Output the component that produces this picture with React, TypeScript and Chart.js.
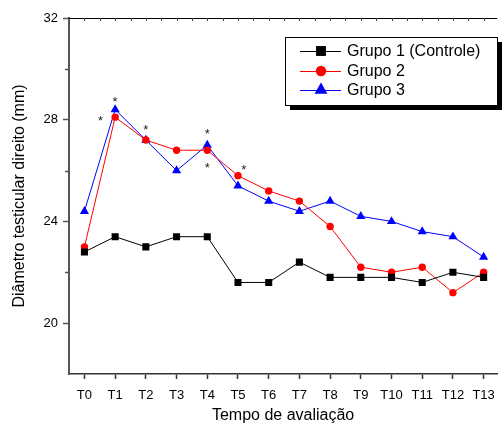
import React, { useEffect, useRef } from "react";
import { Chart, registerables } from "chart.js";

Chart.register(...registerables);

const categories = ["T0", "T1", "T2", "T3", "T4", "T5", "T6", "T7", "T8", "T9", "T10", "T11", "T12", "T13"];
const grupo1 = [22.8, 23.4, 23.0, 23.4, 23.4, 21.6, 21.6, 22.4, 21.8, 21.8, 21.8, 21.6, 22.0, 21.8];
const grupo2 = [23.0, 28.1, 27.2, 26.8, 26.8, 25.8, 25.2, 24.8, 23.8, 22.2, 22.0, 22.2, 21.2, 22.0];
const grupo3 = [24.4, 28.4, 27.2, 26.0, 27.0, 25.4, 24.8, 24.4, 24.8, 24.2, 24.0, 23.6, 23.4, 22.6];
const seriesNames = ["Grupo 1 (Controle)", "Grupo 2", "Grupo 3"];
const yTickValues = [20, 24, 28, 32];
const yMinorTicks = [22, 26, 30];
const asteriskX = [0.52, 1, 2, 4, 4, 5.19];
const asteriskY = [28.08, 28.84, 27.74, 27.58, 26.24, 26.16];

const FONT = "'Liberation Sans', Arial, sans-serif";

export default function App() {
  const ref = useRef<HTMLCanvasElement | null>(null);

  useEffect(() => {
    if (!ref.current) return;
    const toPts = (arr: number[]) => arr.map((v, i) => ({ x: i, y: v }));

    const decor = {
      id: "decor",
      afterDraw(chart: any) {
        const { ctx, chartArea } = chart;
        const xs = chart.scales.x;
        const ys = chart.scales.y;
        ctx.save();
        // top line
        ctx.strokeStyle = "#000";
        ctx.lineWidth = 1;
        ctx.beginPath();
        ctx.moveTo(chartArea.left, chartArea.top + 0.5);
        ctx.lineTo(chartArea.right, chartArea.top + 0.5);
        ctx.stroke();
        // top minor ticks (inward)
        ctx.strokeStyle = "#444";
        for (let v = 0; v <= 13.5; v += 0.5) {
          const px = Math.round(xs.getPixelForValue(v)) + 0.5;
          if (px > chartArea.right) break;
          ctx.beginPath();
          ctx.moveTo(px, chartArea.top);
          ctx.lineTo(px, chartArea.top + 3);
          ctx.stroke();
        }
        // left minor ticks (outward)
        ctx.strokeStyle = "#555";
        ctx.lineWidth = 1.5;
        yMinorTicks.forEach((v) => {
          const py = Math.round(ys.getPixelForValue(v)) + 0.5;
          ctx.beginPath();
          ctx.moveTo(chartArea.left - 4, py);
          ctx.lineTo(chartArea.left, py);
          ctx.stroke();
        });
        // asterisks
        ctx.fillStyle = "#222";
        ctx.font = `13px ${FONT}`;
        ctx.textAlign = "center";
        ctx.textBaseline = "alphabetic";
        asteriskX.forEach((xv, i) => {
          const px = xs.getPixelForValue(xv);
          const py = ys.getPixelForValue(asteriskY[i]);
          ctx.fillText("*", px, py + 7.5);
        });
        // legend
        const bx = 285, by = 37, bw = 212, bh = 68;
        ctx.fillStyle = "#000";
        ctx.fillRect(bx + 5, by + 5, bw, bh);
        ctx.fillStyle = "#fff";
        ctx.fillRect(bx, by, bw, bh);
        ctx.strokeStyle = "#000";
        ctx.lineWidth = 1;
        ctx.strokeRect(bx + 0.5, by + 0.5, bw, bh);
        const rows = [51, 71, 90];
        chart.data.datasets.forEach((ds: any, i: number) => {
          const y = rows[i];
          ctx.strokeStyle = ds.borderColor;
          ctx.lineWidth = 1;
          ctx.beginPath();
          ctx.moveTo(300, y + 0.5);
          ctx.lineTo(341, y + 0.5);
          ctx.stroke();
          ctx.fillStyle = ds.backgroundColor;
          const r = ds.pointRadius * 1.4;
          ctx.beginPath();
          if (ds.pointStyle === "rect") {
            const s = Math.SQRT1_2 * r;
            ctx.rect(321 - s, y - s, 2 * s, 2 * s);
          } else if (ds.pointStyle === "triangle") {
            ctx.moveTo(321, y - r);
            ctx.lineTo(321 + r * 0.866, y + r * 0.5);
            ctx.lineTo(321 - r * 0.866, y + r * 0.5);
            ctx.closePath();
          } else {
            ctx.arc(321, y, r, 0, Math.PI * 2);
          }
          ctx.fill();
          ctx.fillStyle = "#000";
          ctx.font = `16px ${FONT}`;
          ctx.textAlign = "left";
          ctx.textBaseline = "middle";
          ctx.fillText(ds.label, 347, y + 1);
        });
        ctx.restore();
      },
    };

    const chart = new Chart(ref.current, {
      type: "line",
      data: {
        datasets: [
          {
            label: seriesNames[0],
            data: toPts(grupo1),
            borderColor: "#000000",
            backgroundColor: "#000000",
            borderWidth: 1,
            pointStyle: "rect",
            pointRadius: 5,
            pointBorderWidth: 0,
          },
          {
            label: seriesNames[1],
            data: toPts(grupo2),
            borderColor: "#ff0000",
            backgroundColor: "#ff0000",
            borderWidth: 1,
            pointStyle: "circle",
            pointRadius: 3.7,
            pointBorderWidth: 0,
          },
          {
            label: seriesNames[2],
            data: toPts(grupo3),
            borderColor: "#0000ff",
            backgroundColor: "#0000ff",
            borderWidth: 1,
            pointStyle: "triangle",
            pointRadius: 5.3,
            pointBorderWidth: 0,
          },
        ],
      },
      options: {
        animation: false,
        responsive: false,
        devicePixelRatio: 1,
        layout: { padding: { top: 18, right: 0, left: 0, bottom: 0 } },
        plugins: { legend: { display: false }, tooltip: { enabled: false } },
        scales: {
          x: {
            type: "linear",
            min: -0.503,
            max: 13.44,
            afterFit: (s: any) => {
              s.height = 54;
            },
            afterBuildTicks: (s: any) => {
              s.ticks = categories.map((_, i) => ({ value: i }));
            },
            ticks: {
              callback: (v: any) => categories[v] ?? "",
              color: "#000",
              font: { family: FONT, size: 13 },
              padding: 9,
              maxRotation: 0,
              autoSkip: false,
            },
            grid: {
              drawOnChartArea: false,
              tickLength: 5,
              tickColor: "#333",
              tickWidth: 1.5,
            },
            border: { color: "#333", width: 1.5 },
            title: {
              display: true,
              text: "Tempo de avaliação",
              color: "#000",
              font: { family: FONT, size: 16 },
              padding: { bottom: 2.6, top: 0 },
            },
          },
          y: {
            type: "linear",
            min: 18,
            max: 32,
            afterFit: (s: any) => {
              s.width = 69;
            },
            afterBuildTicks: (s: any) => {
              s.ticks = yTickValues.map((v) => ({ value: v }));
            },
            ticks: {
              color: "#000",
              font: { family: FONT, size: 13 },
              padding: 5,
            },
            grid: {
              drawOnChartArea: false,
              tickLength: 6,
              tickColor: "#555",
              tickWidth: 1.5,
            },
            border: { color: "#555", width: 2 },
            title: {
              display: true,
              text: "Diâmetro testicular direito (mm)",
              color: "#000",
              font: { family: FONT, size: 16 },
              padding: { top: 10, bottom: 0 },
            },
          },
        },
      },
      plugins: [decor],
    } as any);

    return () => chart.destroy();
  }, []);

  return (
    <div style={{ position: "fixed", left: 0, top: 0, width: 504, height: 428, overflow: "hidden", background: "#fff" }}>
      <canvas ref={ref} width={504} height={428} style={{ width: 504, height: 428, display: "block" }} />
    </div>
  );
}
